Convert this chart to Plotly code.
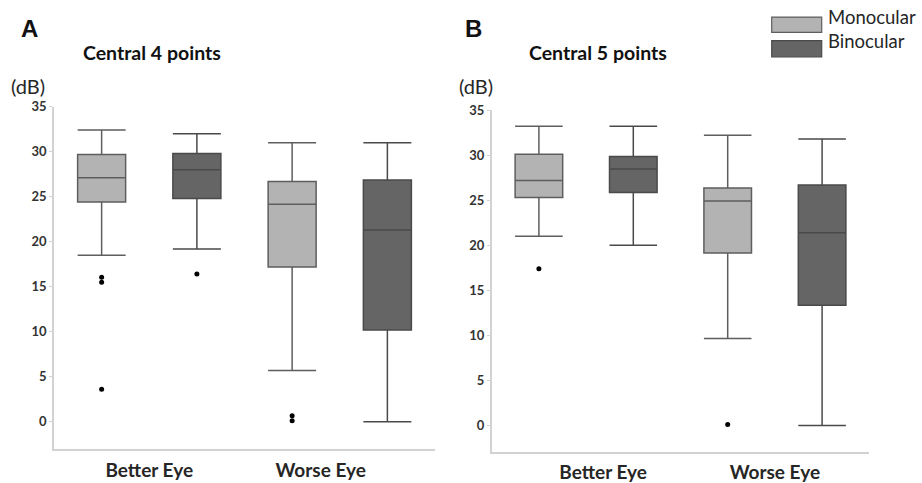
import plotly.graph_objects as go

# ---------------- data ----------------
categories = ["Better Eye", "Worse Eye"]
groups = ["Monocular", "Binocular"]

# Panel A: Central 4 points (dB)
a_mono_upper = [32.4, 31.0]
a_mono_q3 = [29.7, 26.7]
a_mono_median = [27.1, 24.15]
a_mono_q1 = [24.4, 17.2]
a_mono_lower = [18.5, 5.7]
a_mono_outliers = [[16.05, 15.5, 3.6], [0.65, 0.1]]

a_bin_upper = [32.0, 31.0]
a_bin_q3 = [29.8, 26.85]
a_bin_median = [28.0, 21.3]
a_bin_q1 = [24.8, 10.2]
a_bin_lower = [19.2, 0.0]
a_bin_outliers = [[16.4], []]

# Panel B: Central 5 points (dB)
b_mono_upper = [33.2, 32.2]
b_mono_q3 = [30.1, 26.35]
b_mono_median = [27.2, 24.9]
b_mono_q1 = [25.3, 19.15]
b_mono_lower = [21.0, 9.65]
b_mono_outliers = [[17.4], [0.1]]

b_bin_upper = [33.2, 31.8]
b_bin_q3 = [29.85, 26.7]
b_bin_median = [28.45, 21.4]
b_bin_q1 = [25.85, 13.35]
b_bin_lower = [20.0, 0.0]
b_bin_outliers = [[], []]

y_ticks = [0, 5, 10, 15, 20, 25, 30, 35]

# ---------------- styling ----------------
W, H = 922, 483
FILL = {"Monocular": "#b3b3b3", "Binocular": "#656565"}
LINE = {"Monocular": "#5e5e5e", "Binocular": "#4a4a4a"}
AXIS = "#d2d2d2"
TXT = "#262626"
FONT = "Lato"
OFFSET = 0.25
BOXW = 0.252
ANN_DY = -8  # annotation vertical correction (px)


def px(x):
    return x / W


def py(y):
    return 1 - y / H


fig = go.Figure()

panels = [
    ("x", "y", [
        ("Monocular", a_mono_q1, a_mono_median, a_mono_q3, a_mono_lower, a_mono_upper, a_mono_outliers),
        ("Binocular", a_bin_q1, a_bin_median, a_bin_q3, a_bin_lower, a_bin_upper, a_bin_outliers),
    ]),
    ("x2", "y2", [
        ("Monocular", b_mono_q1, b_mono_median, b_mono_q3, b_mono_lower, b_mono_upper, b_mono_outliers),
        ("Binocular", b_bin_q1, b_bin_median, b_bin_q3, b_bin_lower, b_bin_upper, b_bin_outliers),
    ]),
]

for xa, ya, series in panels:
    for gi, (name, q1, med, q3, lo, up, outs) in enumerate(series):
        shift = -OFFSET if gi == 0 else OFFSET
        xs = [i + shift for i in range(len(categories))]
        fig.add_trace(go.Box(
            x=xs, q1=q1, median=med, q3=q3, lowerfence=lo, upperfence=up,
            width=BOXW, whiskerwidth=1, boxpoints=False,
            fillcolor=FILL[name], line=dict(color=LINE[name], width=1.5),
            name=name, showlegend=False, xaxis=xa, yaxis=ya,
        ))
        ox, oy = [], []
        for i, vals in enumerate(outs):
            for v in vals:
                ox.append(i + shift)
                oy.append(v)
        if oy:
            fig.add_trace(go.Scatter(
                x=ox, y=oy, mode="markers",
                marker=dict(color="#000000", size=5),
                showlegend=False, xaxis=xa, yaxis=ya,
            ))

xcommon = dict(range=[-0.5, 1.5], showline=True, linecolor=AXIS, linewidth=1.5,
               ticks="", showgrid=False, zeroline=False, ticktext=categories,
               ticklabelstandoff=3,
               tickfont=dict(family=FONT, size=19, color=TXT, weight="bold"))
ycommon = dict(showline=True, linecolor=AXIS, linewidth=1.5, ticks="outside",
               ticklen=3, tickcolor=AXIS, tickvals=y_ticks, showgrid=False,
               zeroline=False,
               tickfont=dict(family=FONT, size=13, color="#333333", weight="bold"))

fig.update_layout(
    width=W, height=H, margin=dict(l=0, r=0, t=0, b=0),
    paper_bgcolor="white", plot_bgcolor="white", showlegend=False,
    xaxis=dict(domain=[px(54), px(435)], anchor="y", tickvals=[0, 0.9], **xcommon),
    yaxis=dict(domain=[py(451.7), py(101)], anchor="x", range=[-3.08, 35], **ycommon),
    xaxis2=dict(domain=[px(491.7), px(869.3)], anchor="y2", tickvals=[0.09, 1], **xcommon),
    yaxis2=dict(domain=[py(454), py(104)], anchor="x2", range=[-2.9, 35.05], **ycommon),
)

ann = []


def text(x, y, s, size, bold=False, family=FONT, xanchor="center"):
    ann.append(dict(x=px(x), y=py(y + ANN_DY), xref="paper", yref="paper", text=s,
                    showarrow=False, xanchor=xanchor, yanchor="middle",
                    font=dict(family=family, size=size, color="#111111" if bold else TXT,
                              weight="bold" if bold else "normal")))


text(29, 29, "A", 24, bold=True, family="Liberation Sans")
text(473, 29, "B", 24, bold=True, family="Liberation Sans")
text(151.7, 54, "Central 4 points", 19.5, bold=True)
text(598.3, 54, "Central 5 points", 19.5, bold=True)
text(28, 88, "(dB)", 20)
text(476, 88, "(dB)", 20)
text(826, 17.5, groups[0], 18.5, xanchor="left")
text(826, 42, groups[1], 18.5, xanchor="left")

shapes = [
    dict(type="rect", xref="paper", yref="paper", x0=px(771.7), x1=px(821.7),
         y0=py(25), y1=py(9.3), fillcolor=FILL[groups[0]], line=dict(color=LINE[groups[0]], width=1.2)),
    dict(type="rect", xref="paper", yref="paper", x0=px(771.7), x1=px(821.7),
         y0=py(50), y1=py(33.3), fillcolor=FILL[groups[1]], line=dict(color=LINE[groups[1]], width=1.2)),
]

fig.update_layout(annotations=ann, shapes=shapes)
fig.write_html("out.html", config={"displayModeBar": False},
               post_script="document.body.style.margin='0';document.body.style.overflow='hidden';")
